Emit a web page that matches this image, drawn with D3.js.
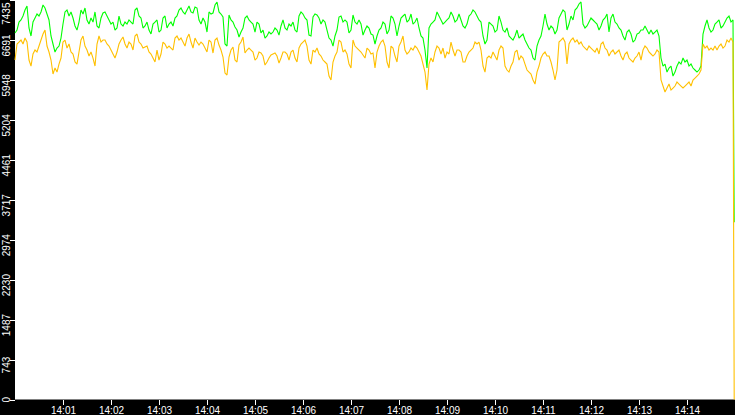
<!DOCTYPE html>
<html><head><meta charset="utf-8">
<script src="https://cdn.jsdelivr.net/npm/d3@7/dist/d3.min.js"></script>
<style>html,body{margin:0;padding:0;background:#000;overflow:hidden}svg{display:block}</style>
</head><body><svg id="c" width="735" height="415"></svg>
<script>
// ---- data ----
const yTicks = [0, 743, 1487, 2230, 2974, 3717, 4461, 5204, 5948, 6691, 7435];
const xTickLabels = ["14:01","14:02","14:03","14:04","14:05","14:06","14:07","14:08","14:09","14:10","14:11","14:12","14:13","14:14"];
const startClock = "14:00:00";
const endClock = "14:15:00";
const sampleSeconds = 2.5;
const lastSampleSecond = 899;

const greenValues = [
6821,6876,7025,7063,7137,7249,7323,6914,6765,7025,7100,7174,7137,7212,7342,7286,7174,7063,6765,6616,6467,6541,6578,6727,6988,7212,7249,7137,7212,7100,6951,6876,7025,7249,7174,7286,7063,6988,7100,7025,7212,6951,6914,7100,7193,
7212,7137,7063,6988,7025,6876,6914,7137,6988,6951,7025,6988,7063,7025,6988,7249,7286,7137,7100,6914,6951,7025,6876,6802,6988,7025,7063,6839,6876,7100,7137,6914,6988,7025,6951,7100,7137,7249,7286,7212,7174,7249,7323,7212,7193,
7305,7286,7063,6988,7100,7025,6839,7212,7174,7193,7342,7398,7212,7174,7118,6616,6578,7156,7063,7025,6932,6876,6746,6839,6914,7100,7137,7063,7025,6988,6839,7025,6988,6821,6876,6727,6765,6839,6802,6839,6914,6876,6783,6951,7063,
6914,6876,6988,6951,7025,6876,6839,7137,7212,7174,7100,7063,6783,6765,7118,7174,7156,7100,6988,7063,7025,6876,6727,6690,6578,6765,6876,7118,7137,7025,7063,7025,6821,6876,7156,7025,6988,7063,6988,6783,6876,6951,6914,6802,6783,
6616,6765,6876,6914,7025,6988,6802,6876,7137,7100,6988,6765,6951,7100,7137,7174,7025,7063,7174,6988,7025,7100,6914,6765,6727,6504,6169,6914,6988,7025,7063,7212,7137,7063,6988,7025,7063,7100,7212,7137,7025,7063,7174,7063,6951,
6914,6988,7137,7174,7249,7212,7137,7063,7025,6765,6616,6690,7025,6988,6951,6839,6876,7137,7025,6876,6839,6914,6765,6727,6690,6765,6876,6727,6765,6802,6690,6616,6541,6504,6355,6318,6578,6690,6765,6951,7174,6988,6876,6951,6914,
6802,6876,7100,7174,7249,7212,6876,6988,7137,7063,7249,7286,7361,7398,6988,6914,6951,7025,7100,7063,7025,6988,6876,6951,7063,7100,7174,6839,7100,7174,7025,6988,6914,6876,6765,6690,6839,6876,6802,6653,6690,6802,6821,6876,6876,
6951,6876,6802,6876,6802,6839,6876,6765,6355,6206,6243,6094,6169,6206,6020,6094,6206,6281,6243,6355,6281,6318,6206,6243,6169,6132,6094,6132,6206,6802,6951,7063,6914,6839,6876,6988,7025,7063,6914,6951,7025,7100,7137,7025,7063,
3300
];

const orangeValues = [
6318,6616,6653,6690,6616,6727,6653,6318,6206,6430,6504,6467,6578,6690,6802,6876,6578,6467,6318,6057,6169,6094,6243,6355,6653,6690,6541,6616,6467,6430,6281,6243,6467,6690,6765,6578,6504,6392,6467,6355,6206,6616,6765,6653,6690,
6690,6616,6578,6504,6430,6355,6467,6616,6690,6746,6616,6541,6653,6616,6504,6765,6802,6653,6616,6541,6560,6578,6467,6430,6355,6281,6504,6318,6430,6653,6616,6541,6578,6541,6504,6727,6765,6690,6727,6653,6578,6727,6802,6653,6541,
6727,6653,6597,6653,6616,6541,6467,6690,6653,6448,6690,6727,6597,6504,6374,6076,6039,6374,6504,6560,6318,6281,6597,6653,6746,6448,6504,6541,6504,6467,6318,6355,6467,6448,6392,6225,6281,6355,6411,6430,6448,6392,6262,6355,6467,
6467,6430,6318,6467,6504,6355,6281,6541,6616,6653,6690,6578,6318,6243,6504,6467,6541,6430,6392,6318,6281,6243,6020,5946,6281,6392,6467,6690,6653,6467,6504,6430,6243,6169,6690,6578,6541,6504,6467,6411,6355,6541,6504,6430,6448,
6169,6467,6578,6653,6690,6578,6281,6169,6578,6541,6392,6281,6578,6653,6765,6504,6430,6467,6541,6504,6578,6541,6467,6392,6243,6094,5759,6243,6355,6281,6467,6578,6541,6430,6541,6355,6467,6430,6653,6504,6392,6504,6504,6467,6281,
6281,6392,6467,6504,6541,6653,6616,6653,6504,6206,6094,6355,6392,6355,6467,6392,6318,6504,6578,6541,6206,6132,6094,6206,6281,6467,6504,6318,6392,6355,6243,6132,6094,6057,5946,5871,6094,6206,6355,6430,6467,6392,6392,6281,6132,
5946,6132,6653,6690,6727,6653,6243,6616,6690,6727,6653,6690,6616,6653,6578,6541,6504,6578,6541,6504,6467,6541,6430,6616,6653,6541,6504,6392,6467,6504,6430,6467,6504,6392,6318,6430,6467,6355,6318,6281,6355,6392,6467,6318,6504,
6578,6541,6467,6430,6392,6430,6504,6467,5946,5834,5722,5797,5871,5759,5797,5834,5908,5871,5834,5797,5834,5871,5908,5834,5946,5983,6020,6057,6132,6616,6541,6578,6504,6541,6504,6578,6504,6578,6616,6541,6578,6690,6653,6727,6653,
0
];

const seriesColors = { green: "#00ff00", orange: "#ffc000" };

// ---- drawing ----
const W = 735, H = 415;
const plot = { left: 15, top: 0, right: 735, bottom: 399.5 };
const svg = d3.select("#c");
svg.append("rect").attr("width", W).attr("height", H).attr("fill", "#000");
svg.append("rect").attr("x", plot.left).attr("y", plot.top)
   .attr("width", plot.right - plot.left).attr("height", plot.bottom - plot.top).attr("fill", "#fff");

const parseClock = d3.timeParse("%Y-%m-%d %H:%M:%S");
const t0 = parseClock("2000-01-01 " + startClock);
const t1 = parseClock("2000-01-01 " + endClock);
const parseTick = d3.timeParse("%Y-%m-%d %H:%M");
const xTickDates = xTickLabels.map(s => parseTick("2000-01-01 " + s));

const x = d3.scaleTime().domain([t0, t1]).range([plot.left, plot.right]);
const y = d3.scaleLinear().domain([0, 7435]).range([plot.bottom, plot.top]);

function timeAt(i, n) {
  const sec = (i === n - 1) ? lastSampleSecond : i * sampleSeconds;
  return new Date(t0.getTime() + sec * 1000);
}
function toPoints(vals) { return vals.map((v, i) => ({ t: timeAt(i, vals.length), v })); }

const line = d3.line().x(d => x(d.t)).y(d => y(d.v)).curve(d3.curveLinear);

const g = svg.append("g");
[["green", greenValues], ["orange", orangeValues]].forEach(([k, vals]) => {
  g.append("path").datum(toPoints(vals))
   .attr("d", line).attr("fill", "none")
   .attr("stroke", seriesColors[k]).attr("stroke-width", 1.1)
   .attr("stroke-linejoin", "miter").attr("stroke-miterlimit", 2);
});

// y axis
const yAxis = d3.axisLeft(y).tickValues(yTicks).tickSize(5).tickFormat(d3.format("d"));
const ya = svg.append("g").attr("transform", `translate(${plot.left},0)`).call(yAxis);
ya.select(".domain").remove();
ya.selectAll(".tick line").attr("stroke", "#fff").attr("shape-rendering", "crispEdges");
ya.selectAll(".tick text")
  .attr("fill", "#fff").attr("font-family", "'Liberation Sans', Arial, sans-serif")
  .attr("font-size", 10).attr("text-anchor", "middle")
  .attr("x", null).attr("dy", null)
  .each(function(d) {
    const len = this.getComputedTextLength();
    let cy = y(d) + 5;
    cy = Math.max(len / 2 + 2, Math.min(H - 16 - len / 2 + 3, cy));
    const tickY = y(d);
    d3.select(this).attr("transform", `translate(${-5},${cy - tickY}) rotate(-90)`);
  });

// x axis
const xAxis = d3.axisBottom(x).tickValues(xTickDates).tickSize(5).tickFormat((d, i) => xTickLabels[i]);
const xa = svg.append("g").attr("transform", `translate(0,${plot.bottom})`).call(xAxis);
xa.select(".domain").remove();
xa.selectAll(".tick line").attr("stroke", "#fff").attr("shape-rendering", "crispEdges");
xa.selectAll(".tick text")
  .attr("fill", "#fff").attr("font-family", "'Liberation Sans', Arial, sans-serif")
  .attr("font-size", 10).attr("y", 14.5).attr("dy", null);
</script></body></html>
